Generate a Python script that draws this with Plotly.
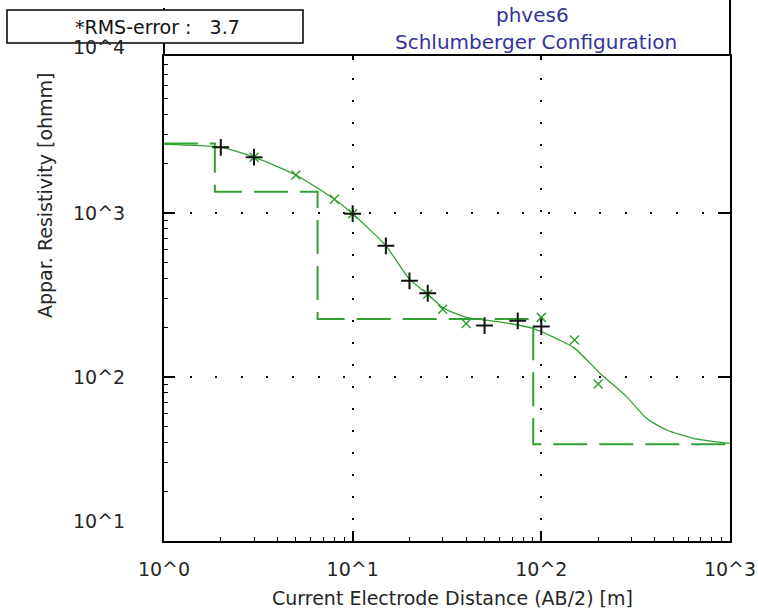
import math
import plotly.graph_objects as go

# ---------------- data ----------------
X_OBS = [2, 3, 10, 15, 20, 25, 50, 75, 100]
Y_OBS = [2515, 2190, 990, 631, 386, 324, 206, 220, 203]

X_CALC = [3, 5, 8, 10, 25, 30, 40, 100, 150, 200]
Y_CALC = [2190, 1706, 1212, 990, 320, 259, 212, 231, 168, 90.6]

X_CURVE = [1, 2, 3, 5, 8, 10, 15, 20, 25, 30, 40, 60, 90, 125, 150, 205, 283, 361, 461, 638, 1000]
Y_CURVE = [2620, 2515, 2190, 1706, 1212, 990, 631, 395, 320, 265, 231, 217, 198, 168, 150, 105, 75.9, 56, 47.5, 42.3, 39.4]

LAYER_RHO = [2650, 1350, 226, 38.9]
LAYER_DEPTH = [1.86, 6.52, 90.6]

X_TICKS = [1, 10, 100, 1000]
X_TICKTEXT = ["10^0", "10^1", "10^2", "10^3"]
Y_TICKS = [10, 100, 1000, 10000]
Y_TICKTEXT = ["10^1", "10^2", "10^3", "10^4"]

RMS_TEXT = "*RMS-error :   3.7"
TITLE1 = "phves6"
TITLE2 = "Schlumberger Configuration"
X_TITLE = "Current Electrode Distance (AB/2) [m]"
Y_TITLE = "Appar. Resistivity [ohmm]"

# ---------------- layout geometry ----------------
W, H = 758, 611
L, R, T, B = 164, 730, 56, 541
X_RANGE = [0, 3]
Y_RANGE = [1, 1 + (B - T) / 164.0]


def px(x):
    return (x - L) / (R - L)


def py(y):
    return (B - y) / (B - T)


def yfrac(v):
    return (math.log10(v) - Y_RANGE[0]) / (Y_RANGE[1] - Y_RANGE[0])


GREEN = "#33a033"
FONT = "DejaVu Sans, Liberation Sans, Arial, sans-serif"
TXT = "#262626"
FS = 19

# step model built from layers
step_x = [X_TICKS[0]]
step_y = [LAYER_RHO[0]]
for i, d in enumerate(LAYER_DEPTH):
    step_x += [d, d]
    step_y += [LAYER_RHO[i], LAYER_RHO[i + 1]]
step_x.append(X_TICKS[-1])
step_y.append(LAYER_RHO[-1])

minor_x = [m * 10 ** k for k in range(0, 3) for m in range(2, 10)]
minor_y = [m * 10 ** k for k in range(1, 4) for m in range(2, 10)]

fig = go.Figure()
fig.add_trace(go.Scatter(x=step_x, y=step_y, mode="lines",
                         line=dict(color=GREEN, width=2, dash="34px,12px"),
                         hoverinfo="skip", showlegend=False))
fig.add_trace(go.Scatter(x=X_CURVE, y=Y_CURVE, mode="lines",
                         line=dict(color=GREEN, width=1.3, shape="spline", smoothing=0.6),
                         showlegend=False))
fig.add_trace(go.Scatter(x=X_CALC, y=Y_CALC, mode="markers",
                         marker=dict(symbol="x-thin", size=9, line=dict(color=GREEN, width=1.5)),
                         showlegend=False))
fig.add_trace(go.Scatter(x=X_OBS, y=Y_OBS, mode="markers",
                         marker=dict(symbol="cross-thin", size=12, line=dict(color="#111111", width=2)),
                         showlegend=False))
# helper trace for the mirrored (top/right) tick axes
fig.add_trace(go.Scatter(x=[X_TICKS[0]], y=[Y_TICKS[0]], xaxis="x2", yaxis="y2",
                         mode="markers", marker=dict(opacity=0), hoverinfo="skip", showlegend=False))

fig.update_layout(
    width=W, height=H,
    margin=dict(l=L, r=W - R, t=T, b=H - B, autoexpand=False),
    paper_bgcolor="white", plot_bgcolor="white",
    font=dict(family=FONT, size=FS, color=TXT),
    xaxis=dict(type="log", range=X_RANGE, tickvals=X_TICKS, ticktext=X_TICKTEXT,
               ticks="inside", ticklen=10, tickwidth=1.5, tickcolor="black",
               showline=True, linecolor="black", linewidth=2, mirror=True,
               showgrid=True, gridcolor="black", gridwidth=2, griddash="2px,20px",
               zeroline=False, ticklabelstandoff=10, automargin=False,
               minor=dict(tickvals=minor_x, ticks="inside", ticklen=4, tickwidth=1.2,
                          tickcolor="black", showgrid=False)),
    yaxis=dict(type="log", range=Y_RANGE, tickvals=Y_TICKS[1:3], showticklabels=False,
               ticks="inside", ticklen=11, tickwidth=1.5, tickcolor="black",
               showline=True, linecolor="black", linewidth=2, mirror=True,
               showgrid=True, gridcolor="black", gridwidth=2, griddash="2px,23.6px",
               zeroline=False, automargin=False,
               minor=dict(tickvals=minor_y, ticks="inside", ticklen=4, tickwidth=1.2,
                          tickcolor="black", showgrid=False)),
    xaxis2=dict(type="log", range=X_RANGE, overlaying="x", side="top", anchor="y2",
                tickvals=X_TICKS[1:3], ticks="inside", ticklen=4, tickwidth=1.5,
                tickcolor="black", showticklabels=False, showline=False,
                showgrid=False, zeroline=False, automargin=False),
    yaxis2=dict(type="log", range=Y_RANGE, overlaying="y", side="right", anchor="x2",
                tickvals=Y_TICKS[1:3], ticks="inside", ticklen=12, tickwidth=1.5,
                tickcolor="black", showticklabels=False, showline=False,
                showgrid=False, zeroline=False, automargin=False),
)

annotations = []
# y tick labels
for v, t in zip(Y_TICKS, Y_TICKTEXT):
    annotations.append(dict(x=px(127), y=yfrac(v), xref="paper", yref="paper",
                            text=t, showarrow=False, xanchor="right", yanchor="middle",
                            yshift=20 if v == Y_TICKS[0] else (2 if v == Y_TICKS[-1] else 0),
                            font=dict(size=FS, color=TXT)))
annotations += [
    dict(x=px(452), y=py(598), xref="paper", yref="paper", text=X_TITLE, showarrow=False,
         xanchor="center", yanchor="middle", font=dict(size=FS, color=TXT)),
    dict(x=px(45), y=py(195), xref="paper", yref="paper", text=Y_TITLE, showarrow=False,
         textangle=-90, xanchor="center", yanchor="middle", font=dict(size=FS, color=TXT)),
    dict(x=px(532), y=py(15), xref="paper", yref="paper", text=TITLE1, showarrow=False,
         xanchor="center", yanchor="middle", font=dict(size=20, color="#33339c")),
    dict(x=px(536), y=py(42), xref="paper", yref="paper", text=TITLE2, showarrow=False,
         xanchor="center", yanchor="middle", font=dict(size=20, color="#33339c")),
    dict(x=px(157), y=py(27), xref="paper", yref="paper", text=RMS_TEXT, showarrow=False,
         xanchor="center", yanchor="middle", font=dict(size=FS, color="#111111")),
]
fig.update_layout(annotations=annotations)

fig.update_layout(shapes=[
    # axis extensions above the frame
    dict(type="line", xref="paper", yref="paper", x0=0, x1=0, y0=1, y1=py(8),
         line=dict(color="black", width=2)),
    dict(type="line", xref="paper", yref="paper", x0=1, x1=1, y0=1, y1=py(0),
         line=dict(color="black", width=2)),
    # RMS box
    dict(type="rect", xref="paper", yref="paper", x0=px(7), x1=px(303), y0=py(43), y1=py(10),
         line=dict(color="black", width=1.5), fillcolor="white", layer="above"),
])

fig.write_html("out.html")
